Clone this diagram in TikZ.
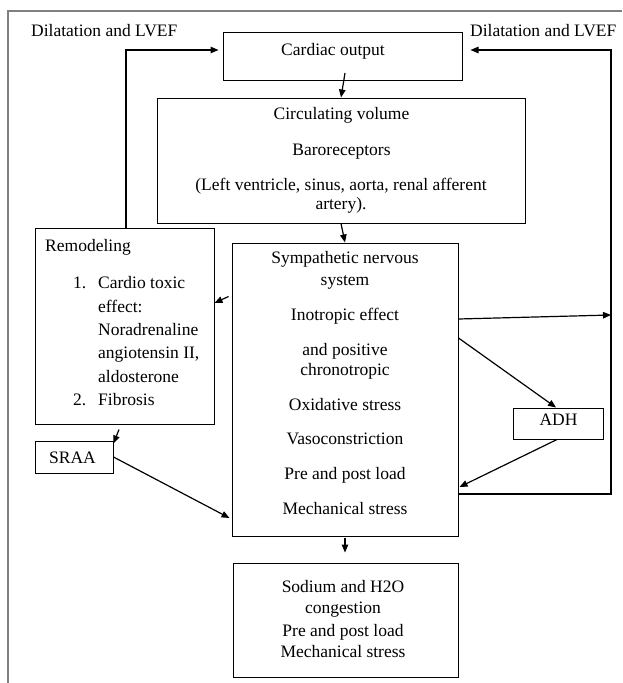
\documentclass[tikz,border=0pt]{standalone}
\usepackage{fontspec}
\setmainfont{Liberation Serif}
\usetikzlibrary{arrows.meta,calc}
\newcommand\dgfont{\fontsize{17.5}{21}\selectfont}
\begin{document}
\begin{tikzpicture}[x=1pt,y=-1pt,
  box/.style={draw=black, line width=1pt, inner sep=0pt},
  txt/.style={anchor=base, inner sep=0pt, font=\dgfont},
  ltxt/.style={anchor=base west, inner sep=0pt, font=\dgfont},
  arr/.style={-{Triangle[length=8pt,width=6.5pt]}, line width=1.2pt},
  frame/.style={draw=gray, line width=1.5pt}]
\useasboundingbox (0,0) rectangle (622,683);
\fill[white] (0,0) rectangle (622,683);
\draw[frame] (8,683) -- (8,11) -- (622,11);

% boxes
\node[box, minimum width=239pt, minimum height=48pt] (co) at (342.5,56.5) {};
\node[box, minimum width=368pt, minimum height=125pt] (circ) at (341,160.5) {};
\node[box, minimum width=226pt, minimum height=293pt] (sym) at (345,389.5) {};
\node[box, minimum width=179pt, minimum height=196pt] (rem) at (124.5,326) {};
\node[box, minimum width=78pt, minimum height=32pt] (sraa) at (74,457) {};
\node[box, minimum width=90pt, minimum height=31pt] (adh) at (558,423.5) {};
\node[box, minimum width=225pt, minimum height=114pt] (sod) at (345.5,620) {};

% texts
\node[ltxt] (dl) at (31,36) {Dilatation and LVEF};
\node[ltxt] (dr) at (470,36) {Dilatation and LVEF};
\node[txt] (tco) at (333,55) {Cardiac output};
\node[txt] (tc1) at (341.5,119) {Circulating volume};
\node[txt] (tc2) at (341.5,155) {Baroreceptors};
\node[txt] (tc3) at (341,190) {(Left ventricle, sinus, aorta, renal afferent};
\node[txt] (tc4) at (341,209) {artery).};
\node[txt] (ts1) at (345,263) {Sympathetic nervous};
\node[txt] (ts2) at (345,285) {system};
\node[txt] (ts3) at (345,320) {Inotropic effect};
\node[txt] (ts4) at (345,355) {and positive};
\node[txt] (ts5) at (345,375) {chronotropic};
\node[txt] (ts6) at (345,410) {Oxidative stress};
\node[txt] (ts7) at (345,444) {Vasoconstriction};
\node[txt] (ts8) at (345,479) {Pre and post load};
\node[txt] (ts9) at (345,514) {Mechanical stress};
\node[ltxt] (tr0) at (45,251) {Remodeling};
\node[ltxt] (tn1) at (73,288) {1.};
\node[ltxt] (tr1) at (98,288) {Cardio toxic};
\node[ltxt] (tr2) at (98,312) {effect:};
\node[ltxt] (tr3) at (98,335) {Noradrenaline};
\node[ltxt] (tr4) at (98,358) {angiotensin II,};
\node[ltxt] (tr5) at (98,382) {aldosterone};
\node[ltxt] (tn2) at (73,405) {2.};
\node[ltxt] (tr6) at (98,405) {Fibrosis};
\node[txt] (tsr) at (72.5,463) {SRAA};
\node[txt] (tad) at (558.5,425) {ADH};
\node[txt] (td1) at (343,592) {Sodium and H2O};
\node[txt] (td2) at (343,613) {congestion};
\node[txt] (td3) at (343,636) {Pre and post load};
\node[txt] (td4) at (343,657) {Mechanical stress};

% helper coordinates
\coordinate (rc) at (611,50);
\coordinate (rj) at (611,315);

% connectors
\draw[arr] ($(co.south)+(2.5,-8)$) -- (circ.north);
\draw[arr] (circ.south) -- (sym.north);
\draw[arr] ($(sym.north west)+(-3,54)$) -- ($(rem.east)+(0,-23)$);
\draw[arr] ($(rem.south)+(-5.5,5)$) -- ($(sraa.north east)+(0,3)$);
\draw[arr] (sraa.east) -- ($(sym.west)+(-2,128.5)$);
\draw[arr] ($(rem.north)+(1.5,0)$) |- ($(co.west)+(-4,-6.5)$);
\draw[arr] ($(sym.east)+(0,104.5)$) -| (rc) -- ($(co.east)+(8,-6.5)$);
\draw[arr] ($(sym.east)+(0,-70.5)$) -- (rj);
\draw[arr] ($(sym.east)+(0,-51.5)$) -- ($(adh.north)+(-2,0)$);
\draw[arr] ($(adh.south)+(-1,0)$) -- ($(sym.east)+(1,97.5)$);
\draw[arr] ($(sym.south)+(0,1)$) -- ($(sod.north)+(-0.5,-10)$);
\end{tikzpicture}
\end{document}
